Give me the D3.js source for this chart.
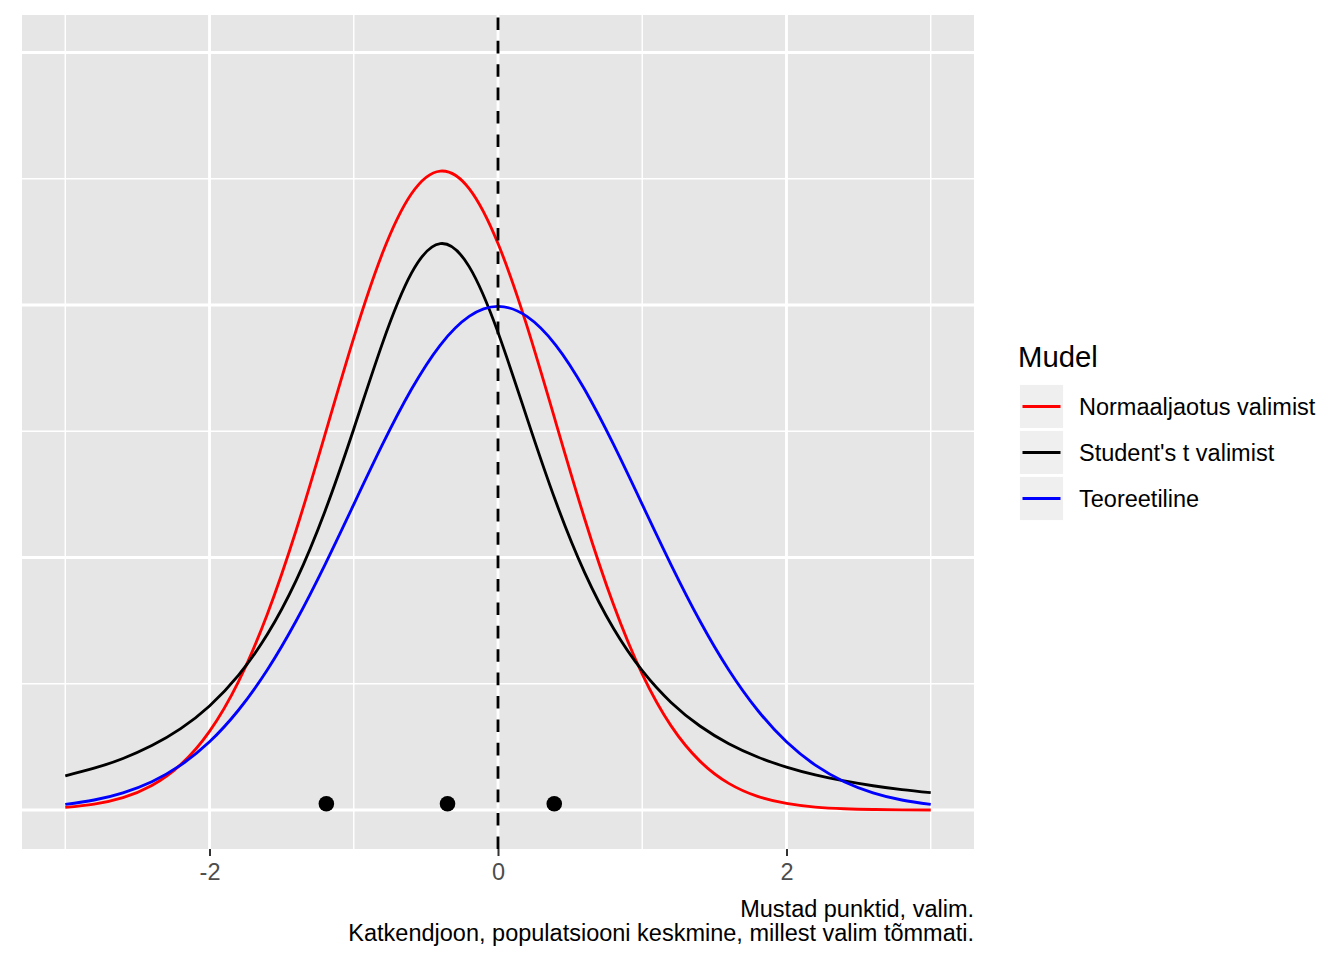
<!DOCTYPE html>
<html>
<head>
<meta charset="utf-8">
<script src="https://cdn.jsdelivr.net/npm/d3@7"></script>
<style>
  body { margin: 0; background: #fff; }
  svg { display: block; font-family: "Liberation Sans", Arial, Helvetica, sans-serif; }
</style>
</head>
<body>
<div class="graph-container"></div>
<script>
var xValues = [-3.0, -2.8, -2.6, -2.4, -2.2, -2.0, -1.8, -1.6, -1.4, -1.2, -1.0, -0.8, -0.6, -0.4, -0.2,
  0.0, 0.2, 0.4, 0.6, 0.8, 1.0, 1.2, 1.4, 1.6, 1.8, 2.0, 2.2, 2.4, 2.6, 2.8, 3.0];

// density values
var normalValues = [0.0021, 0.0047, 0.0098, 0.0194, 0.0359, 0.0623, 0.1015, 0.1549, 0.2214, 0.2972, 0.3740,
  0.4413, 0.4881, 0.5061, 0.4922, 0.4487, 0.3836, 0.3073, 0.2309, 0.1629, 0.1076, 0.0666, 0.0387, 0.0211,
  0.0108, 0.0052, 0.0023, 0.0010, 0.0004, 0.0001, 0.0000];
var studentValues = [0.0271, 0.0331, 0.0408, 0.0510, 0.0644, 0.0824, 0.1066, 0.1390, 0.1817, 0.2365, 0.3018,
  0.3700, 0.4252, 0.4486, 0.4304, 0.3783, 0.3108, 0.2445, 0.1882, 0.1439, 0.1103, 0.0852, 0.0665, 0.0525,
  0.0420, 0.0340, 0.0278, 0.0230, 0.0192, 0.0161, 0.0137];
var theoryValues = [0.0044, 0.0079, 0.0136, 0.0224, 0.0355, 0.0540, 0.0790, 0.1109, 0.1497, 0.1942, 0.2420,
  0.2897, 0.3332, 0.3683, 0.3910, 0.3989, 0.3910, 0.3683, 0.3332, 0.2897, 0.2420, 0.1942, 0.1497, 0.1109,
  0.0790, 0.0540, 0.0355, 0.0224, 0.0136, 0.0079, 0.0044];

// the sample (black points) and population mean (dashed line)
var sampleX = [-1.19, -0.35, 0.39];
var sampleY = [0.005, 0.005, 0.005];
var populationMean = 0;

var seriesNames = ['Normaaljaotus valimist', "Student's t valimist", 'Teoreetiline'];
var seriesColors = ['#FF0000', '#000000', '#0000FF'];

var xMajorTicks = [-2, 0, 2];
var xMinorTicks = [-3, -1, 1, 3];
var yMajorTicks = [0, 0.2, 0.4, 0.6];
var yMinorTicks = [0.1, 0.3, 0.5];

var captionLines = ['Mustad punktid, valim.', 'Katkendjoon, populatsiooni keskmine, millest valim tõmmati.'];
var legendTitle = 'Mudel';

var svgWidth = 1344;
var svgHeight = 960;
var panelLeft = 22;
var panelRight = 974;
var panelTop = 15;
var panelBottom = 849;
var lineWidth = 2.84;

var svg = d3.select('.graph-container').append('svg')
  .attr('width', svgWidth)
  .attr('height', svgHeight);

var xScale = d3.scaleLinear()
  .domain([-3.3, 3.3])
  .range([panelLeft, panelRight]);

var yScale = d3.scaleLinear()
  .domain([-0.0309, 0.6297])
  .range([panelBottom, panelTop]);

// panel background
svg.append('rect')
  .attr('x', panelLeft)
  .attr('y', panelTop)
  .attr('width', panelRight - panelLeft)
  .attr('height', panelBottom - panelTop)
  .attr('fill', '#E6E6E6');

// grid lines, minor first
function drawGrid(values, isX, width) {
  svg.append('g').selectAll('line')
    .data(values)
    .enter()
    .append('line')
    .attr('x1', function(d) { return isX ? xScale(d) : panelLeft; })
    .attr('x2', function(d) { return isX ? xScale(d) : panelRight; })
    .attr('y1', function(d) { return isX ? panelTop : yScale(d); })
    .attr('y2', function(d) { return isX ? panelBottom : yScale(d); })
    .attr('stroke', '#fff')
    .attr('stroke-width', width);
}
drawGrid(xMinorTicks, true, lineWidth / 2);
drawGrid(yMinorTicks, false, lineWidth / 2);
drawGrid(xMajorTicks, true, lineWidth);
drawGrid(yMajorTicks, false, lineWidth);

// density curves
var allSeries = [normalValues, studentValues, theoryValues];
var line = d3.line()
  .x(function(d, i) { return xScale(xValues[i]); })
  .y(function(d) { return yScale(d); })
  .curve(d3.curveNatural);

svg.append('g').selectAll('path')
  .data(allSeries)
  .enter()
  .append('path')
  .attr('d', line)
  .attr('fill', 'none')
  .attr('stroke', function(d, i) { return seriesColors[i]; })
  .attr('stroke-width', lineWidth)
  .attr('stroke-linejoin', 'round');

// dashed line for population mean, drawn bottom to top
svg.append('line')
  .attr('x1', xScale(populationMean))
  .attr('x2', xScale(populationMean))
  .attr('y1', panelBottom)
  .attr('y2', panelTop)
  .attr('stroke', '#000')
  .attr('stroke-width', lineWidth)
  .attr('stroke-dasharray', '12.6,10.8');

// sample points
svg.append('g').selectAll('circle')
  .data(sampleX)
  .enter()
  .append('circle')
  .attr('cx', function(d) { return xScale(d); })
  .attr('cy', function(d, i) { return yScale(sampleY[i]); })
  .attr('r', 7.8)
  .attr('fill', '#000');

// x axis
var xAxis = d3.axisBottom(xScale)
  .tickValues(xMajorTicks)
  .tickSize(7)
  .tickPadding(7.5)
  .tickFormat(function(d) { return String(d); });

var xAxisG = svg.append('g')
  .attr('transform', 'translate(0,' + panelBottom + ')')
  .call(xAxis);
xAxisG.select('.domain').remove();
xAxisG.selectAll('.tick line')
  .attr('stroke', '#333333')
  .attr('stroke-width', 2);
xAxisG.selectAll('.tick text')
  .attr('fill', '#4D4D4D')
  .style('font-size', '23.5px')
  .style('font-family', '"Liberation Sans", Arial, sans-serif');

// caption
svg.append('g').selectAll('text')
  .data(captionLines)
  .enter()
  .append('text')
  .attr('x', panelRight)
  .attr('y', function(d, i) { return 917 + i * 24; })
  .style('text-anchor', 'end')
  .style('font-size', '23.5px')
  .attr('fill', '#000')
  .text(function(d) { return d; });

// legend
var legend = svg.append('g');
legend.append('text')
  .attr('x', 1018)
  .attr('y', 366.5)
  .style('font-size', '29.3px')
  .attr('fill', '#000')
  .text(legendTitle);

var keys = legend.selectAll('.key')
  .data(seriesNames)
  .enter()
  .append('g')
  .attr('class', 'key')
  .attr('transform', function(d, i) { return 'translate(1018.5,' + (383.5 + i * 46) + ')'; });

keys.append('rect')
  .attr('width', 46)
  .attr('height', 46)
  .attr('fill', '#EFEFEF')
  .attr('stroke', '#fff')
  .attr('stroke-width', lineWidth);

keys.append('line')
  .attr('x1', 4)
  .attr('x2', 42)
  .attr('y1', 23)
  .attr('y2', 23)
  .attr('stroke', function(d, i) { return seriesColors[i]; })
  .attr('stroke-width', lineWidth);

keys.append('text')
  .attr('x', 60.5)
  .attr('y', 31.5)
  .style('font-size', '23.5px')
  .attr('fill', '#000')
  .text(function(d) { return d; });
</script>
</body>
</html>
